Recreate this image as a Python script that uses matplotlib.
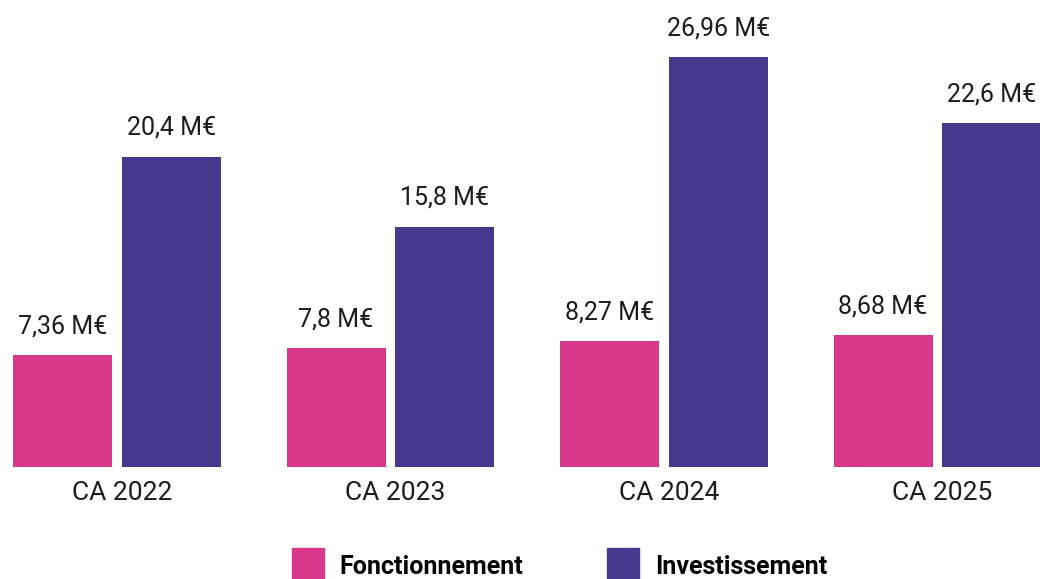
import matplotlib
matplotlib.use("Agg")
import matplotlib.pyplot as plt
from matplotlib.patches import Rectangle
import numpy as np

# données (M€)
annees = ["CA 2022", "CA 2023", "CA 2024", "CA 2025"]
fonctionnement = [7.36, 7.8, 8.27, 8.68]
investissement = [20.4, 15.8, 26.96, 22.6]
lab_fonct = ["7,36 M€", "7,8 M€", "8,27 M€", "8,68 M€"]
lab_invest = ["20,4 M€", "15,8 M€", "26,96 M€", "22,6 M€"]

rose = "#d8388a"
violet = "#47388d"
texte = "#1c1c1c"

plt.rcParams['font.family'] = ['Roboto', 'DejaVu Sans']

W, H = 1040, 579
fig = plt.figure(figsize=(W / 100, H / 100), dpi=100)
base = 467
ax = fig.add_axes([0, (H - base) / H, 1, base / H])

x = np.arange(len(annees))
w = 0.362
off = 0.199
ax.bar(x - off, fonctionnement, w, color=rose)
ax.bar(x + off, investissement, w, color=violet)

ax.set_xlim(-117 / 273.5, (W - 117) / 273.5)
ax.set_ylim(0, base / 15.2)
ax.axis('off')

for i in range(len(annees)):
    ax.annotate(lab_fonct[i], (x[i] - off, fonctionnement[i]), xytext=(0, 15.8),
                textcoords='offset points', ha='center', va='baseline',
                fontsize=18, color=texte)
    ax.annotate(lab_invest[i], (x[i] + off, investissement[i]), xytext=(0, 15.8),
                textcoords='offset points', ha='center', va='baseline',
                fontsize=18, color=texte)
    ax.annotate(annees[i], (x[i], 0), xytext=(3.5, -24),
                textcoords='offset points', ha='center', va='baseline',
                fontsize=19, color=texte)

# légende
fig.patches.append(Rectangle((292 / W, 0), 32 / W, 31 / H, transform=fig.transFigure,
                             color=rose, figure=fig))
fig.patches.append(Rectangle((607 / W, 0), 32 / W, 31 / H, transform=fig.transFigure,
                             color=violet, figure=fig))
fig.text(339 / W, 5 / H, "Fonctionnement", fontsize=18, fontweight='bold',
         color='black', va='baseline')
fig.text(655 / W, 5 / H, "Investissement", fontsize=18, fontweight='bold',
         color='black', va='baseline')

fig.savefig("out.png", dpi=100)
